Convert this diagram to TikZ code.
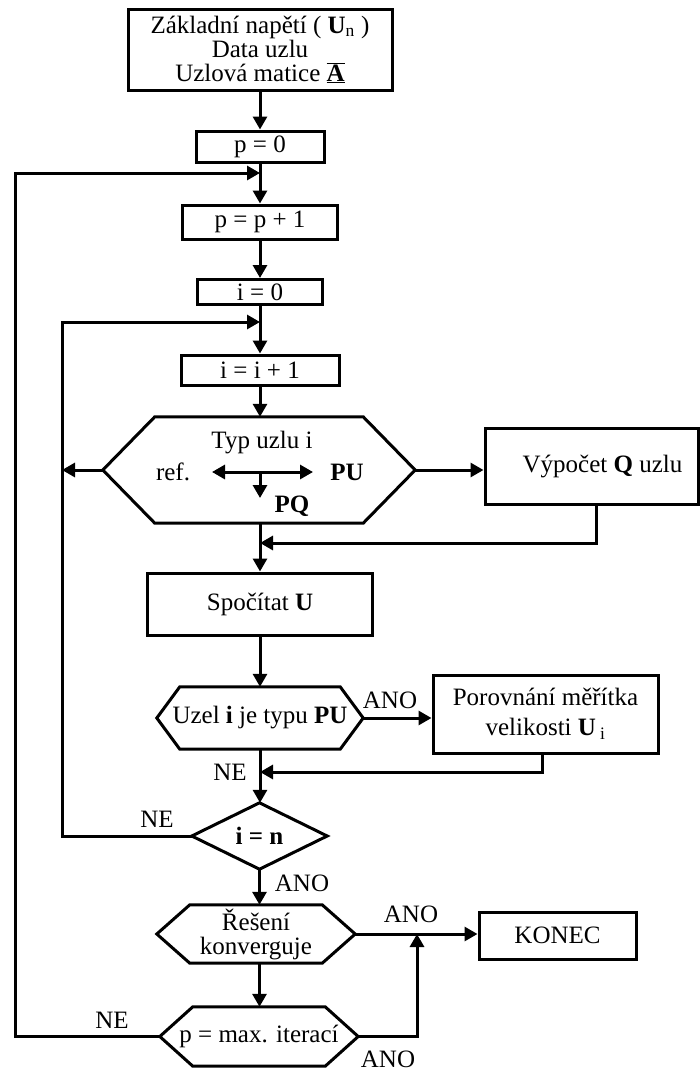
\documentclass[tikz,border=0pt]{standalone}
\usepackage{fontspec}
\setmainfont{Liberation Serif}
\usetikzlibrary{arrows.meta,calc}
\newcommand\hexpath[2]{\draw[shapeline] (#1.west) -- ([xshift=#2]#1.north west) -- ([xshift=-#2]#1.north east) -- (#1.east) -- ([xshift=-#2]#1.south east) -- ([xshift=#2]#1.south west) -- cycle;}
\newcommand\dmdpath[1]{\draw[shapeline] (#1.west) -- (#1.north) -- (#1.east) -- (#1.south) -- cycle;}
\begin{document}
\begin{tikzpicture}[x=1pt,y=-1pt,
  txt/.style={font=\fontsize{25}{24}\selectfont, inner sep=0pt, align=center},
  box/.style={txt, draw, line width=3pt, minimum width=#1},
  shp/.style={txt},
  shapeline/.style={line width=3pt, line join=miter},
  conn/.style={line width=3pt},
  arr/.style={conn, -{Triangle[length=13pt,width=14pt]}},
  lbl/.style={txt}
]
\useasboundingbox (0,0) rectangle (700,1071);
% boxes
\node[box=264pt, minimum height=81pt] (top) at (260,49.5) {Základní napětí ( \textbf{U}\textsubscript{n} )\\Data uzlu\\Uzlová matice $\overline{\underline{\textbf{A}}}$};
\node[box=128pt, minimum height=31pt] (p0) at (260,146.5) {p = 0};
\node[box=155pt, minimum height=34pt] (pp1) at (260,222) {p = p + 1};
\node[box=125pt, minimum height=25pt] (i0) at (260,292) {i = 0};
\node[box=158pt, minimum height=30pt] (ii1) at (260,370) {i = i + 1};
% Typ uzlu hexagon
\node[shp, minimum width=312pt, minimum height=106pt] (typ) at (259,470) {};
\hexpath{typ}{52}
\node[lbl] (typt) at (262,443) {Typ uzlu i};
\node[lbl] (ref) at (173,472) {ref.};
\node[lbl] (pu) at (347,472) {\textbf{PU}};
\node[lbl] (pq) at (292,506) {\textbf{PQ}};
\coordinate (tc) at (260,472);
\coordinate (tl) at (212,472);
\coordinate (tr) at (313,472);
\coordinate (td) at (260,498);
\draw[arr] (tc) -- (tl);
\draw[arr] (tc) -- (tr);
\draw[arr] (tc) -- (td);
\node[box=213pt, minimum height=76pt] (vyp) at (591.5,466) {\hspace{22pt}Výpočet \textbf{Q} uzlu};
\node[box=225pt, minimum height=62pt] (spo) at (260,604) {Spočítat \textbf{U}};
% Uzel hexagon
\node[shp, minimum width=206pt, minimum height=62pt] (uzel) at (260,718) {Uzel \textbf{i} je typu \textbf{PU}};
\hexpath{uzel}{23}
\node[box=225pt, minimum height=78pt, font=\fontsize{25}{30}\selectfont] (por) at (545.5,714) {Porovnání měřítka\\velikosti \textbf{U}\,\textsubscript{i}};
% diamond
\node[shp, minimum width=135pt, minimum height=66pt] (in) at (259.5,836) {\textbf{i = n}};
\dmdpath{in}
% Reseni hexagon
\node[shp, minimum width=198pt, minimum height=58pt] (res) at (256,934) {Řešení\\konverguje};
\hexpath{res}{33}
\node[box=157pt, minimum height=47pt] (konec) at (557.5,935.5) {KONEC};
% p = max hexagon
\node[shp, minimum width=198pt, minimum height=59pt] (pmax) at (259,1036.5) {p = max. iterací};
\hexpath{pmax}{33}
% junction coordinates
\coordinate (j1) at (260,173);
\coordinate (j2) at (260,322);
\coordinate (j3) at (260,543);
\coordinate (j4) at (260,772);
\coordinate (j5) at (417,934);
\coordinate (lx1) at (15,0);
\coordinate (lx2) at (62,0);
% main flow
\draw[arr] (top.south) -- (top.south |- p0.north);
\draw[arr] (p0.south) -- (p0.south |- pp1.north);
\draw[arr] (pp1.south) -- (pp1.south |- i0.north);
\draw[arr] (i0.south) -- (i0.south |- ii1.north);
\draw[arr] (ii1.south) -- (ii1.south |- typ.north);
\draw[arr] (typ.south -| spo.north) -- (spo.north);
\draw[arr] (spo.south) -- (spo.south |- uzel.north);
\draw[arr] (uzel.south) -- (uzel.south |- in.north);
\draw[arr] (in.south) -- (in.south |- res.north);
\draw[arr] (res.south -| in.south) -- (in.south |- pmax.north);
% side branches
\draw[arr] (typ.west) -- (typ.west -| lx2);
\draw[arr] (typ.east) -- (vyp.west |- typ.east);
\draw[arr] ([xshift=5pt]vyp.south) |- (j3);
\draw[arr] (uzel.east) -- (por.west |- uzel.east);
\draw[arr] ([xshift=-3.5pt]por.south) |- (j4);
\draw[arr] (in.west) -| (j2 -| lx2) -- (j2);
\draw[arr] (res.east) -- (konec.west |- res.east);
\draw[arr] (pmax.east) -| (j5);
\draw[arr] (pmax.west) -| (j1 -| lx1) -- (j1);
% labels
\node[lbl] (l1) at (390,700) {ANO};
\node[lbl] (l2) at (230,772) {NE};
\node[lbl] (l3) at (157,819) {NE};
\node[lbl] (l4) at (302,883) {ANO};
\node[lbl] (l5) at (411,914) {ANO};
\node[lbl] (l6) at (388,1059) {ANO};
\node[lbl] (l7) at (112,1020) {NE};
\end{tikzpicture}
\end{document}
